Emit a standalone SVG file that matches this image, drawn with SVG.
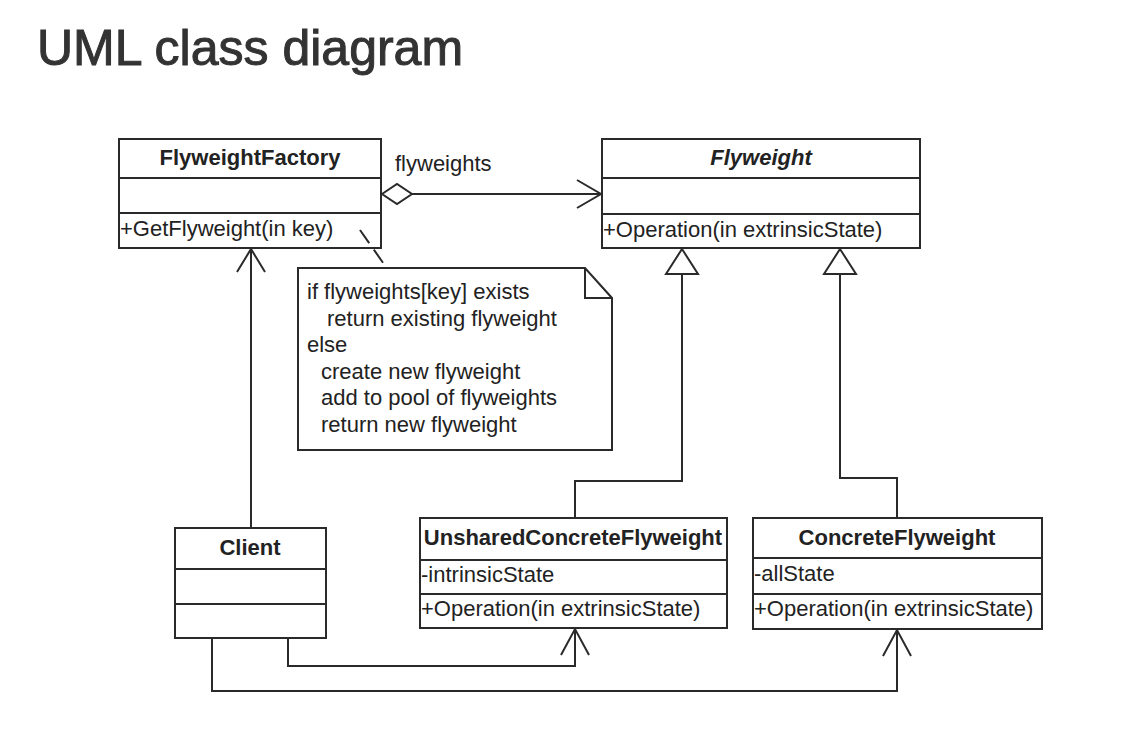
<svg xmlns="http://www.w3.org/2000/svg" width="1132" height="732" viewBox="0 0 1132 732">
<style>
  .box { fill: #ffffff; stroke: #2a2a2a; stroke-width: 2; }
  .div { stroke: #2a2a2a; stroke-width: 2; }
  .ln { fill: none; stroke: #2a2a2a; stroke-width: 2; }
  .t { font-family: "Liberation Sans", Arial, sans-serif; font-size: 22px; fill: #222222; }
  .b { font-weight: bold; text-anchor: middle; }
  .title { font-family: "Liberation Sans", Arial, sans-serif; font-size: 50px; fill: #333333; stroke: #333333; stroke-width: 1; }
</style>
<rect x="0" y="0" width="1132" height="732" fill="#ffffff"/>
<text class="title" x="37" y="65">UML class diagram</text>

<g id="FlyweightFactory">
  <rect class="box" x="119" y="139" width="262" height="109"/>
  <line class="div" x1="119" y1="178" x2="381" y2="178"/>
  <line class="div" x1="119" y1="213" x2="381" y2="213"/>
  <text class="t b" x="250" y="165">FlyweightFactory</text>
  <text class="t" x="120" y="236">+GetFlyweight(in key)</text>
</g>

<g id="Flyweight">
  <rect class="box" x="602" y="139" width="318" height="109"/>
  <line class="div" x1="602" y1="178" x2="920" y2="178"/>
  <line class="div" x1="602" y1="214" x2="920" y2="214"/>
  <text class="t b" x="761" y="165" font-style="italic">Flyweight</text>
  <text class="t" x="603" y="237">+Operation(in extrinsicState)</text>
</g>

<g id="Note">
  <path d="M298,268 L585,268 L612,298 L612,450 L298,450 Z" fill="#ffffff" stroke="#2a2a2a" stroke-width="2"/>
  <polyline class="ln" points="585,268 585,298 612,298"/>
  <text class="t" x="307" y="299">if flyweights[key] exists</text>
  <text class="t" x="327" y="326">return existing flyweight</text>
  <text class="t" x="307" y="352">else</text>
  <text class="t" x="321" y="379">create new flyweight</text>
  <text class="t" x="321" y="405">add to pool of flyweights</text>
  <text class="t" x="321" y="432">return new flyweight</text>
</g>

<g id="Client">
  <rect class="box" x="175" y="528" width="151" height="110"/>
  <line class="div" x1="175" y1="569" x2="326" y2="569"/>
  <line class="div" x1="175" y1="604" x2="326" y2="604"/>
  <text class="t b" x="250" y="555">Client</text>
</g>

<g id="UnsharedConcreteFlyweight">
  <rect class="box" x="420" y="518" width="307" height="110"/>
  <line class="div" x1="420" y1="560" x2="727" y2="560"/>
  <line class="div" x1="420" y1="594" x2="727" y2="594"/>
  <text class="t b" x="573" y="545">UnsharedConcreteFlyweight</text>
  <text class="t" x="421" y="582">-intrinsicState</text>
  <text class="t" x="421" y="616">+Operation(in extrinsicState)</text>
</g>

<g id="ConcreteFlyweight">
  <rect class="box" x="753" y="518" width="289" height="111"/>
  <line class="div" x1="753" y1="558" x2="1042" y2="558"/>
  <line class="div" x1="753" y1="594" x2="1042" y2="594"/>
  <text class="t b" x="897" y="545">ConcreteFlyweight</text>
  <text class="t" x="754" y="581">-allState</text>
  <text class="t" x="754" y="616">+Operation(in extrinsicState)</text>
</g>

<g id="connectors">
  <!-- aggregation FlyweightFactory -> Flyweight -->
  <line class="ln" x1="412" y1="194" x2="601" y2="194"/>
  <polygon points="382,194 397,184 412,194 397,204" fill="#ffffff" stroke="#2a2a2a" stroke-width="2"/>
  <polyline class="ln" points="577,180 601,194 577,208"/>
  <text class="t" x="395" y="171">flyweights</text>
  <!-- note anchor dashed -->
  <line class="ln" x1="360" y1="230" x2="386" y2="267" stroke-dasharray="16,8"/>
  <!-- generalization Unshared -> Flyweight -->
  <polyline class="ln" points="682,274 682,481 575,481 575,517"/>
  <polygon points="682,249 666,274 698,274" fill="#ffffff" stroke="#2a2a2a" stroke-width="2"/>
  <!-- generalization Concrete -> Flyweight -->
  <polyline class="ln" points="840,274 840,478 897,478 897,517"/>
  <polygon points="840,249 824,274 856,274" fill="#ffffff" stroke="#2a2a2a" stroke-width="2"/>
  <!-- Client -> FlyweightFactory -->
  <line class="ln" x1="251" y1="527" x2="251" y2="249"/>
  <polyline class="ln" points="237,272 251,249 265,272"/>
  <!-- Client -> Unshared -->
  <polyline class="ln" points="288,639 288,666 575,666 575,629"/>
  <polyline class="ln" points="561,655 575,629 589,655"/>
  <!-- Client -> Concrete -->
  <polyline class="ln" points="212,639 212,691 897,691 897,630"/>
  <polyline class="ln" points="883,656 897,630 911,656"/>
</g>
</svg>
